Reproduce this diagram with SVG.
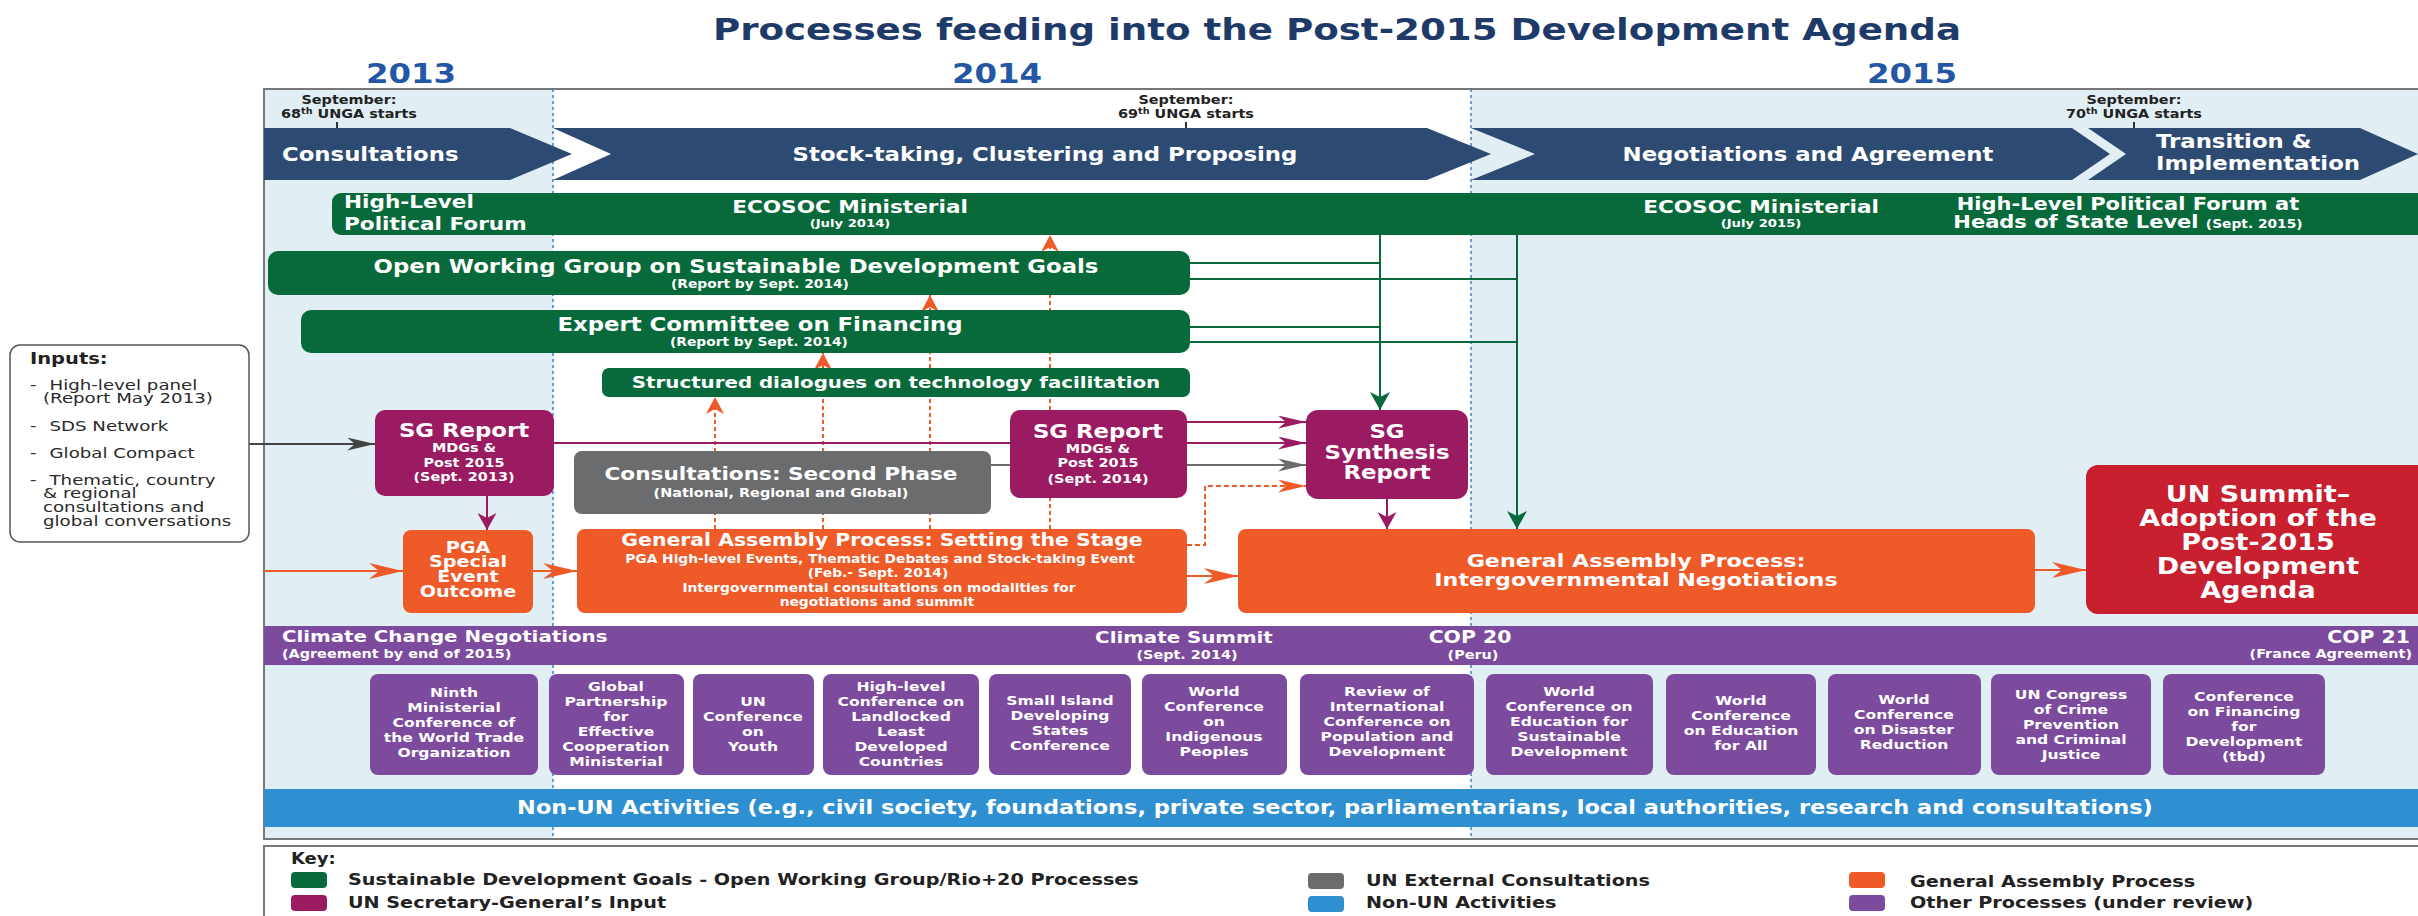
<svg xmlns="http://www.w3.org/2000/svg" width="2418" height="916" viewBox="0 0 2418 916">
<style>
text{font-family:"DejaVu Sans","Liberation Sans",sans-serif;font-weight:bold;transform-box:fill-box;transform-origin:50% 50%;transform:scaleX(1.2)}
.m{text-anchor:middle}
.l{text-anchor:start;transform-origin:0% 50%}
.r{text-anchor:end;transform-origin:100% 50%}
.s13{transform:scaleX(1.3)}
.w{fill:#fff}
.n{font-weight:normal}
.dk{fill:#222}
.gn{fill:#086a3b}
.mg{fill:#9b1b62}
.gy{fill:#6b6c6e}
.or{fill:#ef5a29}
.pu{fill:#7c4b9d}
.bl{fill:#2e90d0}
.band{fill:#2d4b72}
.lb{fill:#e1eff4}
.ob text{font-size:13px}
.c{fill:none;stroke-width:2}
</style>
<defs>
<marker id="hDk" markerUnits="userSpaceOnUse" markerWidth="28" markerHeight="13" refX="28" refY="6.5" orient="auto"><path d="M0,0 L28,6.5 L0,13 L8,6.5 z" fill="#444"/></marker>
<marker id="hMg" markerUnits="userSpaceOnUse" markerWidth="28" markerHeight="13" refX="28" refY="6.5" orient="auto"><path d="M0,0 L28,6.5 L0,13 L8,6.5 z" fill="#9b1b62"/></marker>
<marker id="hGy" markerUnits="userSpaceOnUse" markerWidth="28" markerHeight="13" refX="28" refY="6.5" orient="auto"><path d="M0,0 L28,6.5 L0,13 L8,6.5 z" fill="#6b6c6e"/></marker>
<marker id="hOr" markerUnits="userSpaceOnUse" markerWidth="28" markerHeight="13" refX="28" refY="6.5" orient="auto"><path d="M0,0 L28,6.5 L0,13 L8,6.5 z" fill="#ef5a29"/></marker>
<marker id="hOrB" markerUnits="userSpaceOnUse" markerWidth="34" markerHeight="16" refX="34" refY="8" orient="auto"><path d="M0,0 L34,8 L0,16 L10,8 z" fill="#ef5a29"/></marker>
<marker id="vMg" markerUnits="userSpaceOnUse" markerWidth="17" markerHeight="19" refX="17" refY="9.5" orient="auto"><path d="M0,0 L17,9.5 L0,19 L5,9.5 z" fill="#9b1b62"/></marker>
<marker id="vGn" markerUnits="userSpaceOnUse" markerWidth="18" markerHeight="20" refX="18" refY="10" orient="auto"><path d="M0,0 L18,10 L0,20 L5,10 z" fill="#086a3b"/></marker>
<marker id="vOr" markerUnits="userSpaceOnUse" markerWidth="17" markerHeight="18" refX="17" refY="9" orient="auto"><path d="M0,0 L17,9 L0,18 L5,9 z" fill="#ef5a29"/></marker>
</defs>

<rect x="0" y="0" width="2418" height="916" fill="#fff"/>

<!-- title and years -->
<g id="title">
<text class="m" x="1337" y="40" font-size="31" fill="#1d3a68">Processes feeding into the Post-2015 Development Agenda</text>
<text class="m" x="411" y="83" font-size="27" fill="#2356a5">2013</text>
<text class="m" x="997" y="83" font-size="27" fill="#2356a5">2014</text>
<text class="m" x="1912" y="83" font-size="27" fill="#2356a5">2015</text>
</g>

<!-- frame -->
<g id="frame">
<rect class="lb" x="264" y="89" width="289" height="750"/>
<rect class="lb" x="1471" y="89" width="947" height="750"/>
<path d="M2418,89 H264 V839 H2418" fill="none" stroke="#777" stroke-width="2"/>
<line x1="553" y1="89" x2="553" y2="839" stroke="#3f7fc1" stroke-width="1.5" stroke-dasharray="3 3"/>
<line x1="1471" y1="89" x2="1471" y2="839" stroke="#3f7fc1" stroke-width="1.5" stroke-dasharray="3 3"/>
</g>

<!-- UNGA markers -->
<g id="unga68">
<text class="m dk" x="349" y="104" font-size="12">September:</text>
<text class="m dk" x="349" y="118" font-size="12">68<tspan dy="-4" font-size="8">th</tspan><tspan dy="4"> UNGA starts</tspan></text>
<line x1="337" y1="122" x2="337" y2="129" stroke="#333" stroke-width="2"/>
</g>
<g id="unga69">
<text class="m dk" x="1186" y="104" font-size="12">September:</text>
<text class="m dk" x="1186" y="118" font-size="12">69<tspan dy="-4" font-size="8">th</tspan><tspan dy="4"> UNGA starts</tspan></text>
<line x1="1186" y1="122" x2="1186" y2="129" stroke="#333" stroke-width="2"/>
</g>
<g id="unga70">
<text class="m dk" x="2134" y="104" font-size="12">September:</text>
<text class="m dk" x="2134" y="118" font-size="12">70<tspan dy="-4" font-size="8">th</tspan><tspan dy="4"> UNGA starts</tspan></text>
<line x1="2134" y1="122" x2="2134" y2="129" stroke="#333" stroke-width="2"/>
</g>

<!-- stage chevrons -->
<g id="stage-consultations">
<polygon class="band" points="264,128 510,128 572,154 510,180 264,180"/>
<text class="l w" x="282" y="161" font-size="19">Consultations</text>
</g>
<g id="stage-stocktaking">
<polygon class="band" points="553,128 1427,128 1491,154 1427,180 553,180 611,154"/>
<text class="m w" x="1045" y="161" font-size="19">Stock-taking, Clustering and Proposing</text>
</g>
<g id="stage-negotiations">
<polygon class="band" points="1471,128 2072,128 2110,154 2072,180 1471,180 1535,154"/>
<text class="m w" x="1808" y="161" font-size="19">Negotiations and Agreement</text>
</g>
<g id="stage-transition">
<polygon class="band" points="2088,128 2360,128 2418,154 2360,180 2088,180 2126,154"/>
<text class="l w" x="2156" y="148" font-size="19">Transition &amp;</text>
<text class="l w" x="2156" y="170" font-size="19">Implementation</text>
</g>

<!-- connectors -->
<g id="connectors">
<line class="c" x1="1380" y1="235" x2="1380" y2="410" stroke="#086a3b" stroke-width="2.5" marker-end="url(#vGn)"/>
<line class="c" x1="1517" y1="235" x2="1517" y2="529" stroke="#086a3b" stroke-width="2.5" marker-end="url(#vGn)"/>
<line class="c" x1="1190" y1="263" x2="1380" y2="263" stroke="#086a3b" stroke-width="1.5"/>
<line class="c" x1="1190" y1="279" x2="1517" y2="279" stroke="#086a3b" stroke-width="1.5"/>
<line class="c" x1="1190" y1="327" x2="1380" y2="327" stroke="#086a3b" stroke-width="1.5"/>
<line class="c" x1="1190" y1="342" x2="1517" y2="342" stroke="#086a3b" stroke-width="1.5"/>
<line class="c" x1="715" y1="529" x2="715" y2="397" stroke="#ef5a29" stroke-width="2.5" stroke-dasharray="4 3" marker-end="url(#vOr)"/>
<line class="c" x1="823" y1="529" x2="823" y2="353" stroke="#ef5a29" stroke-width="2.5" stroke-dasharray="4 3" marker-end="url(#vOr)"/>
<line class="c" x1="930" y1="529" x2="930" y2="295" stroke="#ef5a29" stroke-width="2.5" stroke-dasharray="4 3" marker-end="url(#vOr)"/>
<line class="c" x1="1050" y1="529" x2="1050" y2="235" stroke="#ef5a29" stroke-width="2.5" stroke-dasharray="4 3" marker-end="url(#vOr)"/>
<line class="c" x1="249" y1="444" x2="375" y2="444" stroke="#444" stroke-width="1.5" marker-end="url(#hDk)"/>
<line class="c" x1="554" y1="443" x2="1306" y2="443" stroke="#9b1b62" stroke-width="1.5" marker-end="url(#hMg)"/>
<line class="c" x1="1187" y1="422" x2="1306" y2="422" stroke="#9b1b62" stroke-width="1.5" marker-end="url(#hMg)"/>
<line class="c" x1="991" y1="465" x2="1306" y2="465" stroke="#6b6c6e" stroke-width="1.5" marker-end="url(#hGy)"/>
<path class="c" d="M1187,545 H1205 V486 H1306" stroke="#ef5a29" stroke-width="2" stroke-dasharray="5 3" marker-end="url(#hOr)"/>
<line class="c" x1="487" y1="496" x2="487" y2="530" stroke="#9b1b62" stroke-width="2.5" marker-end="url(#vMg)"/>
<line class="c" x1="1387" y1="499" x2="1387" y2="529" stroke="#9b1b62" stroke-width="2.5" marker-end="url(#vMg)"/>
<line class="c" x1="264" y1="571" x2="403" y2="571" stroke="#ef5a29" stroke-width="2" marker-end="url(#hOrB)"/>
<line class="c" x1="533" y1="571" x2="577" y2="571" stroke="#ef5a29" stroke-width="2" marker-end="url(#hOrB)"/>
<line class="c" x1="1187" y1="576" x2="1238" y2="576" stroke="#ef5a29" stroke-width="2" marker-end="url(#hOrB)"/>
<line class="c" x1="2035" y1="570" x2="2086" y2="570" stroke="#ef5a29" stroke-width="2" marker-end="url(#hOrB)"/>
</g>

<!-- inputs -->
<g id="inputs">
<rect x="10" y="345" width="239" height="197" rx="10" fill="#fff" stroke="#555" stroke-width="1.5"/>
<text class="l dk s13" x="30" y="364" font-size="15">Inputs:</text>
<g fill="#2a2a2a" font-size="14">
<text class="l n s13" x="30" y="390">-<tspan x="45">High-level panel</tspan></text>
<text class="l n s13" x="43" y="403">(Report May 2013)</text>
<text class="l n s13" x="30" y="431">-<tspan x="45">SDS Network</tspan></text>
<text class="l n s13" x="30" y="458">-<tspan x="45">Global Compact</tspan></text>
<text class="l n s13" x="30" y="485">-<tspan x="45">Thematic, country</tspan></text>
<text class="l n s13" x="43" y="498">&amp; regional</text>
<text class="l n s13" x="43" y="512">consultations and</text>
<text class="l n s13" x="43" y="526">global conversations</text>
</g>
</g>

<!-- green processes -->
<g id="hlpf">
<rect class="gn" x="332" y="193" width="2110" height="42" rx="9"/>
<text class="l w" x="344" y="208" font-size="18">High-Level</text>
<text class="l w" x="344" y="230" font-size="18">Political Forum</text>
<text class="m w" x="850" y="213" font-size="18">ECOSOC Ministerial</text>
<text class="m w" x="850" y="227" font-size="11">(July 2014)</text>
<text class="m w" x="1761" y="213" font-size="18">ECOSOC Ministerial</text>
<text class="m w" x="1761" y="227" font-size="11">(July 2015)</text>
<text class="m w" x="2128" y="210" font-size="17.5">High-Level Political Forum at</text>
<text class="m w" x="2128" y="228" font-size="17.5">Heads of State Level <tspan font-size="11.5">(Sept. 2015)</tspan></text>
</g>
<g id="owg">
<rect class="gn" x="268" y="251" width="922" height="44" rx="10"/>
<text class="m w" x="736" y="273" font-size="19">Open Working Group on Sustainable Development Goals</text>
<text class="m w" x="760" y="288" font-size="11.5">(Report by Sept. 2014)</text>
</g>
<g id="expert-committee">
<rect class="gn" x="301" y="310" width="889" height="43" rx="10"/>
<text class="m w" x="760" y="331" font-size="19">Expert Committee on Financing</text>
<text class="m w" x="759" y="346" font-size="11.5">(Report by Sept. 2014)</text>
</g>
<g id="structured-dialogues">
<rect class="gn" x="602" y="368" width="588" height="29" rx="7"/>
<text class="m w" x="896" y="388" font-size="16.5">Structured dialogues on technology facilitation</text>
</g>

<!-- SG inputs -->
<g id="sg-report-2013">
<rect class="mg" x="375" y="410" width="179" height="86" rx="10"/>
<text class="m w" x="464" y="437" font-size="19">SG Report</text>
<text class="m w" x="464" y="452" font-size="12">MDGs &amp;</text>
<text class="m w" x="464" y="467" font-size="12">Post 2015</text>
<text class="m w" x="464" y="481" font-size="12">(Sept. 2013)</text>
</g>
<g id="consultations-second-phase">
<rect class="gy" x="574" y="451" width="417" height="63" rx="8"/>
<text class="m w" x="781" y="480" font-size="18">Consultations: Second Phase</text>
<text class="m w" x="781" y="497" font-size="12">(National, Regional and Global)</text>
</g>
<g id="sg-report-2014">
<rect class="mg" x="1010" y="410" width="177" height="88" rx="10"/>
<text class="m w" x="1098" y="438" font-size="19">SG Report</text>
<text class="m w" x="1098" y="453" font-size="12">MDGs &amp;</text>
<text class="m w" x="1098" y="467" font-size="12">Post 2015</text>
<text class="m w" x="1098" y="483" font-size="12">(Sept. 2014)</text>
</g>
<g id="sg-synthesis">
<rect class="mg" x="1306" y="410" width="162" height="89" rx="12"/>
<text class="m w" x="1387" y="438" font-size="19">SG</text>
<text class="m w" x="1387" y="459" font-size="19">Synthesis</text>
<text class="m w" x="1387" y="479" font-size="19">Report</text>
</g>

<!-- GA process -->
<g id="pga-special-event">
<rect class="or" x="403" y="530" width="130" height="83" rx="8"/>
<text class="m w" x="468" y="553" font-size="16">PGA</text>
<text class="m w" x="468" y="567" font-size="16">Special</text>
<text class="m w" x="468" y="582" font-size="16">Event</text>
<text class="m w" x="468" y="597" font-size="16">Outcome</text>
</g>
<g id="ga-setting-stage">
<rect class="or" x="577" y="529" width="610" height="84" rx="8"/>
<text class="m w" x="882" y="546" font-size="17">General Assembly Process: Setting the Stage</text>
<text class="m w" x="880" y="563" font-size="11.5">PGA High-level Events, Thematic Debates and Stock-taking Event</text>
<text class="m w" x="878" y="577" font-size="11.5">(Feb.- Sept. 2014)</text>
<text class="m w" x="879" y="592" font-size="11.5">Intergovernmental consultations on modalities for</text>
<text class="m w" x="877" y="606" font-size="11.5">negotiations and summit</text>
</g>
<g id="ga-intergovernmental">
<rect class="or" x="1238" y="529" width="797" height="84" rx="8"/>
<text class="m w" x="1636" y="567" font-size="18.5">General Assembly Process:</text>
<text class="m w" x="1636" y="586" font-size="18.5">Intergovernmental Negotiations</text>
</g>
<g id="un-summit">
<rect x="2086" y="465" width="345" height="149" rx="12" fill="#c8202f"/>
<text class="m w" x="2258" y="502" font-size="22.5">UN Summit–</text>
<text class="m w" x="2258" y="526" font-size="22.5">Adoption of the</text>
<text class="m w" x="2258" y="550" font-size="22.5">Post-2015</text>
<text class="m w" x="2258" y="574" font-size="22.5">Development</text>
<text class="m w" x="2258" y="598" font-size="22.5">Agenda</text>
</g>

<!-- climate -->
<g id="climate-change">
<rect class="pu" x="264" y="626" width="2154" height="39"/>
<text class="l w" x="282" y="642" font-size="16.5">Climate Change Negotiations</text>
<text class="l w" x="282" y="658" font-size="12">(Agreement by end of 2015)</text>
<text class="m w" x="1184" y="643" font-size="16.5">Climate Summit</text>
<text class="m w" x="1187" y="659" font-size="12">(Sept. 2014)</text>
<text class="m w" x="1470" y="643" font-size="17">COP 20</text>
<text class="m w" x="1473" y="659" font-size="12">(Peru)</text>
<text class="r w" x="2410" y="643" font-size="17">COP 21</text>
<text class="r w" x="2412" y="658" font-size="12">(France Agreement)</text>
</g>

<!-- other processes -->
<g class="ob">
<g id="wto-ministerial">
<rect class="pu" x="370" y="674" width="168" height="101" rx="8"/>
<text class="m w" x="454" y="697">Ninth</text>
<text class="m w" x="454" y="712">Ministerial</text>
<text class="m w" x="454" y="727">Conference of</text>
<text class="m w" x="454" y="742">the World Trade</text>
<text class="m w" x="454" y="757">Organization</text>
</g>
<g id="global-partnership">
<rect class="pu" x="549" y="674" width="135" height="101" rx="8"/>
<text class="m w" x="616" y="691">Global</text>
<text class="m w" x="616" y="706">Partnership</text>
<text class="m w" x="616" y="721">for</text>
<text class="m w" x="616" y="736">Effective</text>
<text class="m w" x="616" y="751">Cooperation</text>
<text class="m w" x="616" y="766">Ministerial</text>
</g>
<g id="youth-conference">
<rect class="pu" x="693" y="674" width="121" height="101" rx="8"/>
<text class="m w" x="753" y="706">UN</text>
<text class="m w" x="753" y="721">Conference</text>
<text class="m w" x="753" y="736">on</text>
<text class="m w" x="753" y="751">Youth</text>
</g>
<g id="lldc-conference">
<rect class="pu" x="823" y="674" width="156" height="101" rx="8"/>
<text class="m w" x="901" y="691">High-level</text>
<text class="m w" x="901" y="706">Conference on</text>
<text class="m w" x="901" y="721">Landlocked</text>
<text class="m w" x="901" y="736">Least</text>
<text class="m w" x="901" y="751">Developed</text>
<text class="m w" x="901" y="766">Countries</text>
</g>
<g id="sids-conference">
<rect class="pu" x="989" y="674" width="142" height="101" rx="8"/>
<text class="m w" x="1060" y="705">Small Island</text>
<text class="m w" x="1060" y="720">Developing</text>
<text class="m w" x="1060" y="735">States</text>
<text class="m w" x="1060" y="750">Conference</text>
</g>
<g id="indigenous-conference">
<rect class="pu" x="1142" y="674" width="145" height="101" rx="8"/>
<text class="m w" x="1214" y="696">World</text>
<text class="m w" x="1214" y="711">Conference</text>
<text class="m w" x="1214" y="726">on</text>
<text class="m w" x="1214" y="741">Indigenous</text>
<text class="m w" x="1214" y="756">Peoples</text>
</g>
<g id="icpd-review">
<rect class="pu" x="1300" y="674" width="174" height="101" rx="8"/>
<text class="m w" x="1387" y="696">Review of</text>
<text class="m w" x="1387" y="711">International</text>
<text class="m w" x="1387" y="726">Conference on</text>
<text class="m w" x="1387" y="741">Population and</text>
<text class="m w" x="1387" y="756">Development</text>
</g>
<g id="esd-conference">
<rect class="pu" x="1486" y="674" width="167" height="101" rx="8"/>
<text class="m w" x="1569" y="696">World</text>
<text class="m w" x="1569" y="711">Conference on</text>
<text class="m w" x="1569" y="726">Education for</text>
<text class="m w" x="1569" y="741">Sustainable</text>
<text class="m w" x="1569" y="756">Development</text>
</g>
<g id="efa-conference">
<rect class="pu" x="1666" y="674" width="150" height="101" rx="8"/>
<text class="m w" x="1741" y="705">World</text>
<text class="m w" x="1741" y="720">Conference</text>
<text class="m w" x="1741" y="735">on Education</text>
<text class="m w" x="1741" y="750">for All</text>
</g>
<g id="disaster-conference">
<rect class="pu" x="1828" y="674" width="153" height="101" rx="8"/>
<text class="m w" x="1904" y="704">World</text>
<text class="m w" x="1904" y="719">Conference</text>
<text class="m w" x="1904" y="734">on Disaster</text>
<text class="m w" x="1904" y="749">Reduction</text>
</g>
<g id="crime-congress">
<rect class="pu" x="1991" y="674" width="160" height="101" rx="8"/>
<text class="m w" x="2071" y="699">UN Congress</text>
<text class="m w" x="2071" y="714">of Crime</text>
<text class="m w" x="2071" y="729">Prevention</text>
<text class="m w" x="2071" y="744">and Criminal</text>
<text class="m w" x="2071" y="759">Justice</text>
</g>
<g id="ffd-conference">
<rect class="pu" x="2163" y="674" width="162" height="101" rx="8"/>
<text class="m w" x="2244" y="701">Conference</text>
<text class="m w" x="2244" y="716">on Financing</text>
<text class="m w" x="2244" y="731">for</text>
<text class="m w" x="2244" y="746">Development</text>
<text class="m w" x="2244" y="761">(tbd)</text>
</g>
</g>

<!-- non-UN -->
<g id="non-un">
<rect class="bl" x="264" y="789" width="2154" height="38"/>
<text class="m w" x="1335" y="814" font-size="18.7">Non-UN Activities (e.g., civil society, foundations, private sector, parliamentarians, local authorities, research and consultations)</text>
</g>

<!-- key -->
<g id="key">
<rect x="264" y="846" width="2170" height="80" fill="#fff" stroke="#777" stroke-width="2"/>
<text class="l dk" x="291" y="864" font-size="15">Key:</text>
<rect class="gn" x="291" y="872" width="36" height="16" rx="4"/>
<text class="l dk" x="348" y="885" font-size="16">Sustainable Development Goals - Open Working Group/Rio+20 Processes</text>
<rect class="mg" x="291" y="895" width="36" height="16" rx="4"/>
<text class="l dk" x="348" y="908" font-size="16">UN Secretary-General’s Input</text>
<rect class="gy" x="1308" y="873" width="36" height="16" rx="4"/>
<text class="l dk" x="1366" y="886" font-size="16">UN External Consultations</text>
<rect class="bl" x="1308" y="896" width="36" height="16" rx="4"/>
<text class="l dk" x="1366" y="908" font-size="16">Non-UN Activities</text>
<rect class="or" x="1849" y="872" width="36" height="16" rx="4"/>
<text class="l dk" x="1910" y="887" font-size="16">General Assembly Process</text>
<rect class="pu" x="1849" y="895" width="36" height="16" rx="4"/>
<text class="l dk" x="1910" y="908" font-size="16">Other Processes (under review)</text>
</g>
</svg>
